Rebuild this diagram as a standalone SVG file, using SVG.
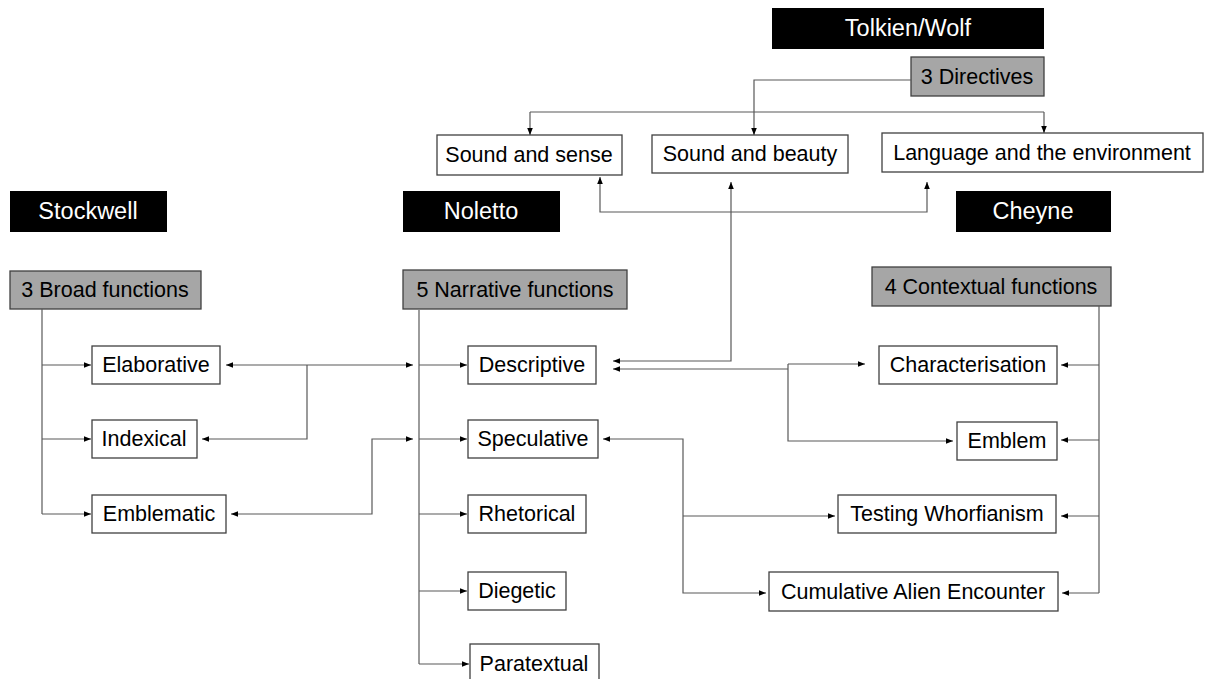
<svg xmlns="http://www.w3.org/2000/svg" width="1206" height="679" viewBox="0 0 1206 679">
  <style>
    text { font-family: "Liberation Sans", "Open Sans", sans-serif; font-size: 21.5px; fill: #000; dominant-baseline: central; text-anchor: middle; }
    .head rect { fill: #000; }
    .head text { fill: #fff; font-size: 23.5px; }
    .grey rect { fill: #a6a6a6; stroke: #404040; stroke-width: 1.3; }
    .box rect { fill: #fff; stroke: #404040; stroke-width: 1.3; }
    #connectors path { fill: none; stroke: #595959; stroke-width: 1.2; }
  </style>
  <defs>
    <marker id="arr" viewBox="0 0 10 10" refX="10" refY="5" markerWidth="7" markerHeight="7" markerUnits="userSpaceOnUse" orient="auto-start-reverse">
      <path d="M0,1 L10,5 L0,9 z" fill="#000"/>
    </marker>
  </defs>

  <rect width="1206" height="679" fill="#fff"/>

  <!-- source headings -->
  <g id="tolkien" class="head"><rect x="772" y="8" width="272" height="41"/><text x="908" y="28">Tolkien/Wolf</text></g>
  <g id="stockwell" class="head"><rect x="10" y="191" width="157" height="41"/><text x="88" y="211">Stockwell</text></g>
  <g id="noletto" class="head"><rect x="403" y="191" width="157" height="41"/><text x="481" y="211">Noletto</text></g>
  <g id="cheyne" class="head"><rect x="956" y="191" width="155" height="41"/><text x="1033" y="211">Cheyne</text></g>

  <!-- category groups -->
  <g id="directives" class="grey"><rect x="911" y="57" width="133" height="39"/><text x="977" y="77">3 Directives</text></g>
  <g id="broad" class="grey"><rect x="10" y="271" width="191" height="38"/><text x="105" y="290">3 Broad functions</text></g>
  <g id="narrative" class="grey"><rect x="403" y="270" width="224" height="39"/><text x="515" y="290">5 Narrative functions</text></g>
  <g id="contextual" class="grey"><rect x="872" y="267" width="239" height="39"/><text x="991" y="287">4 Contextual functions</text></g>

  <!-- Tolkien/Wolf directives -->
  <g id="sound-sense" class="box"><rect x="437" y="135" width="185" height="40"/><text x="529" y="155">Sound and sense</text></g>
  <g id="sound-beauty" class="box"><rect x="652" y="135" width="196" height="38"/><text x="750" y="154">Sound and beauty</text></g>
  <g id="language-env" class="box"><rect x="882" y="133" width="321" height="39"/><text x="1042" y="153">Language and the environment</text></g>

  <!-- Stockwell functions -->
  <g id="elaborative" class="box"><rect x="92" y="346" width="128" height="38"/><text x="156" y="365">Elaborative</text></g>
  <g id="indexical" class="box"><rect x="92" y="420" width="105" height="38"/><text x="144" y="439">Indexical</text></g>
  <g id="emblematic" class="box"><rect x="92" y="495" width="134" height="38"/><text x="159" y="514">Emblematic</text></g>

  <!-- Noletto functions -->
  <g id="descriptive" class="box"><rect x="468" y="346" width="128" height="38"/><text x="532" y="365">Descriptive</text></g>
  <g id="speculative" class="box"><rect x="468" y="420" width="130" height="38"/><text x="533" y="439">Speculative</text></g>
  <g id="rhetorical" class="box"><rect x="468" y="495" width="118" height="38"/><text x="527" y="514">Rhetorical</text></g>
  <g id="diegetic" class="box"><rect x="468" y="572" width="98" height="38"/><text x="517" y="591">Diegetic</text></g>
  <g id="paratextual" class="box"><rect x="470" y="644" width="129" height="40"/><text x="534" y="664">Paratextual</text></g>

  <!-- Cheyne functions -->
  <g id="characterisation" class="box"><rect x="879" y="346" width="178" height="38"/><text x="968" y="365">Characterisation</text></g>
  <g id="emblem" class="box"><rect x="957" y="422" width="100" height="38"/><text x="1007" y="441">Emblem</text></g>
  <g id="whorfianism" class="box"><rect x="838" y="495" width="218" height="38"/><text x="947" y="514">Testing Whorfianism</text></g>
  <g id="alien" class="box"><rect x="769" y="572" width="289" height="39"/><text x="913" y="592">Cumulative Alien Encounter</text></g>

  <g id="connectors">
    <!-- 3 Directives fan-out -->
    <path d="M911,80 H754 V135" marker-end="url(#arr)"/>
    <path d="M530,112 H1044"/>
    <path d="M530,112 V135" marker-end="url(#arr)"/>
    <path d="M1044,112 V133" marker-end="url(#arr)"/>
    <!-- sound/sense to language link -->
    <path d="M600,177 V212 H927 V182" marker-start="url(#arr)" marker-end="url(#arr)"/>
    <!-- sound and beauty to descriptive -->
    <path d="M731,182 V361 H613" marker-start="url(#arr)" marker-end="url(#arr)"/>
    <!-- descriptive to characterisation / emblem -->
    <path d="M613,369 H788" marker-start="url(#arr)"/>
    <path d="M788,364 H865" marker-end="url(#arr)"/>
    <path d="M788,364 V441 H953" marker-end="url(#arr)"/>

    <!-- Stockwell tree -->
    <path d="M42,309 V514"/>
    <path d="M42,365 H91" marker-end="url(#arr)"/>
    <path d="M42,439 H91" marker-end="url(#arr)"/>
    <path d="M42,514 H91" marker-end="url(#arr)"/>

    <!-- Noletto tree -->
    <path d="M419,310 V664"/>
    <path d="M419,365 H467" marker-end="url(#arr)"/>
    <path d="M419,439 H467" marker-end="url(#arr)"/>
    <path d="M419,514 H467" marker-end="url(#arr)"/>
    <path d="M419,591 H467" marker-end="url(#arr)"/>
    <path d="M419,664 H469" marker-end="url(#arr)"/>

    <!-- Stockwell to Noletto links -->
    <path d="M226,365 H413" marker-start="url(#arr)" marker-end="url(#arr)"/>
    <path d="M307,365 V439 H202" marker-end="url(#arr)"/>
    <path d="M231,514 H372 V439 H413" marker-start="url(#arr)" marker-end="url(#arr)"/>

    <!-- Speculative to Cheyne links -->
    <path d="M603,439 H683 V593 H766" marker-start="url(#arr)" marker-end="url(#arr)"/>
    <path d="M683,516 H835" marker-end="url(#arr)"/>

    <!-- Cheyne tree -->
    <path d="M1099,306 V593"/>
    <path d="M1099,365 H1061" marker-end="url(#arr)"/>
    <path d="M1099,440 H1061" marker-end="url(#arr)"/>
    <path d="M1099,516 H1061" marker-end="url(#arr)"/>
    <path d="M1099,593 H1062" marker-end="url(#arr)"/>
  </g>
</svg>
